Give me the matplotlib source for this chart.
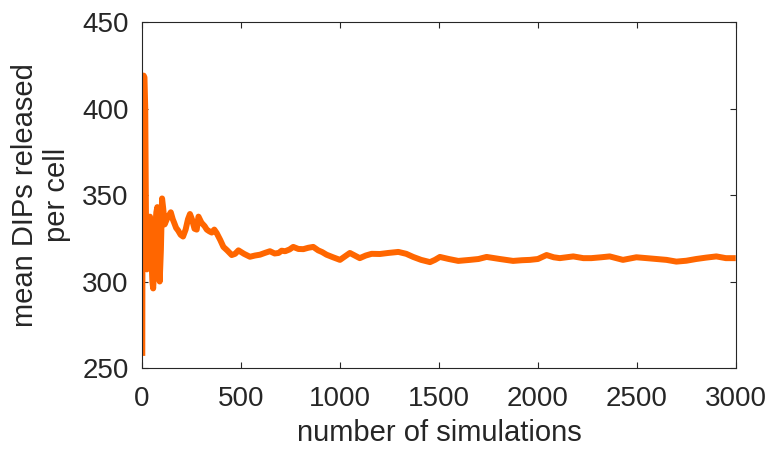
import numpy as np
import matplotlib
matplotlib.use("Agg")
from matplotlib import pyplot as plt

# valores (numero de simulaciones, media de DIPs por celula)
simulaciones = [1, 2, 4, 8, 12, 16, 20, 24, 30, 36, 40, 46, 52, 56, 60, 66, 72, 77,
                83, 89, 95, 101, 107, 114, 125, 135, 145, 155, 162, 172, 182, 195,
                207, 220, 232, 242, 252, 265, 276, 285, 300, 316, 327, 340, 352,
                365, 377, 395, 411, 430, 453, 470, 487, 515, 545, 570, 596, 620,
                646, 670, 690, 705, 723, 745, 764, 790, 815, 840, 865, 890, 910,
                932, 965, 1000, 1025, 1050, 1075, 1100, 1130, 1160, 1202, 1244,
                1295, 1335, 1370, 1410, 1455, 1480, 1505, 1550, 1598, 1657, 1700,
                1741, 1808, 1875, 1920, 1960, 2000, 2044, 2080, 2111, 2179, 2230,
                2270, 2320, 2363, 2430, 2498, 2550, 2600, 2650, 2700, 2750, 2800,
                2850, 2902, 2950, 3000]
media_dips = [257, 330, 419, 419, 418, 400, 330, 307, 320, 336, 337.5, 318, 300, 296,
              305, 330, 340, 343, 320, 300, 318, 348, 342, 333, 336, 338, 340, 336,
              334, 331, 329.5, 327, 326, 330, 336, 339, 336, 330.5, 330, 337.5,
              334, 332, 330, 329, 328.3, 330, 328, 324, 320, 318, 315.3, 316, 318,
              316, 314.3, 315, 315.5, 316.5, 317.5, 316.2, 316.5, 317.8, 317.5,
              318.5, 320, 318.8, 318.7, 319.5, 320, 318, 317, 315.5, 314, 312.5,
              314.5, 316.5, 315, 313.5, 315, 316, 315.9, 316.5, 317.1, 316, 314.2,
              312.5, 311.2, 312.5, 314.2, 313, 311.9, 312.5, 313, 314.2, 313,
              311.9, 312.3, 312.5, 313, 315.3, 314, 313.5, 314.5, 313.5, 313.5,
              314, 314.5, 312.5, 314, 313.5, 313, 312.5, 311.5, 312, 313, 313.8,
              314.5, 313.5, 313.5]

plt.rcParams['font.family'] = ['Liberation Sans', 'DejaVu Sans']
gris = '#262626'

fig = plt.figure(figsize=(7.68, 4.49), dpi=100)
ax = fig.add_axes([0.185, 0.1804, 0.773, 0.7706])

ax.plot(simulaciones, media_dips, color='#ff6600', linewidth=4.3,
        solid_joinstyle='round', solid_capstyle='butt')

ax.set_xlim(0, 3000)
ax.set_ylim(250, 450)
ax.set_xticks(np.arange(0, 3001, 500))
ax.set_yticks(np.arange(250, 451, 50))
ax.tick_params(direction='in', length=4.5, width=0.8, colors=gris,
               labelsize=20, top=True, right=True)
ax.tick_params(axis='x', pad=13)
ax.tick_params(axis='y', pad=9.5)
for lado in ax.spines.values():
    lado.set_color(gris)
    lado.set_linewidth(0.8)

ax.set_xlabel('number of simulations', fontsize=21, color=gris, labelpad=5)
ax.set_ylabel('mean DIPs released\nper cell', fontsize=21, color=gris,
              labelpad=8, linespacing=1.2)

fig.savefig('out.png', dpi=100)
